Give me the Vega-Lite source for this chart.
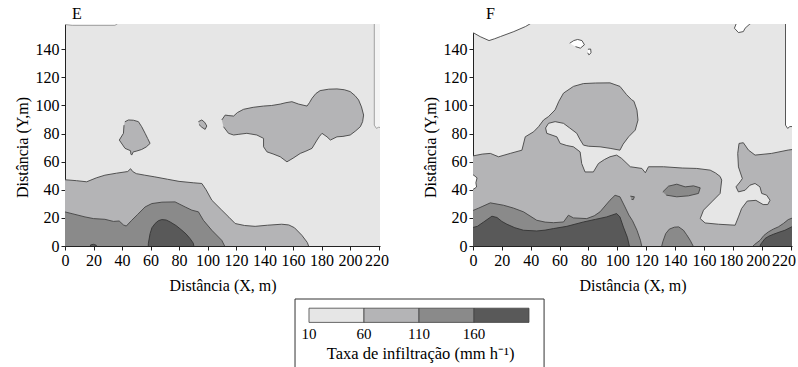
{
"$schema":"https://vega.github.io/schema/vega-lite/v6.json",
"padding":{"left":14,"top":6,"right":0,"bottom":0},
"bounds":"full",
"spacing":5,
"config":{"font":"Liberation Serif","view":{"stroke":null},
"axis":{"labelFont":"Liberation Serif","titleFont":"Liberation Serif","labelFontSize":16,"titleFontSize":16,"titleFontWeight":"normal","labelColor":"#000","titleColor":"#000","domainColor":"#222","tickColor":"#222","tickSize":4,"labelPadding":2,"grid":false,"labelOverlap":false,"labelFlush":false},
"title":{"font":"Liberation Serif","fontSize":16,"fontWeight":"normal","anchor":"start","frame":"group","offset":0,"dy":2,"color":"#000"}},
"datasets":{
"leg":[{"lo":10,"hi":60,"t":"10"},{"lo":60,"hi":110,"t":"60"},{"lo":110,"hi":160,"t":"110"},{"lo":160,"hi":210,"t":"160"}],
"poly":[
{"p":"E","g":"e2a","l":2,"o":0,"x":-3,"y":-3},{"p":"E","g":"e2a","l":2,"o":1,"x":-3,"y":47.4},{"p":"E","g":"e2a","l":2,"o":2,"x":8,"y":46.5},{"p":"E","g":"e2a","l":2,"o":3,"x":15.2,"y":45.7},{"p":"E","g":"e2a","l":2,"o":4,"x":22,"y":48.5},{"p":"E","g":"e2a","l":2,"o":5,"x":28,"y":50.4},{"p":"E","g":"e2a","l":2,"o":6,"x":36,"y":51.8},{"p":"E","g":"e2a","l":2,"o":7,"x":44,"y":53},{"p":"E","g":"e2a","l":2,"o":8,"x":46,"y":55},{"p":"E","g":"e2a","l":2,"o":9,"x":47.5,"y":53},{"p":"E","g":"e2a","l":2,"o":10,"x":50,"y":51.5},{"p":"E","g":"e2a","l":2,"o":11,"x":56,"y":50.4},{"p":"E","g":"e2a","l":2,"o":12,"x":63,"y":49.2},{"p":"E","g":"e2a","l":2,"o":13,"x":72,"y":47.5},{"p":"E","g":"e2a","l":2,"o":14,"x":80,"y":46},{"p":"E","g":"e2a","l":2,"o":15,"x":90,"y":45},{"p":"E","g":"e2a","l":2,"o":16,"x":96,"y":44.5},{"p":"E","g":"e2a","l":2,"o":17,"x":99,"y":40},{"p":"E","g":"e2a","l":2,"o":18,"x":103,"y":32.6},{"p":"E","g":"e2a","l":2,"o":19,"x":110,"y":25.5},{"p":"E","g":"e2a","l":2,"o":20,"x":115,"y":20.5},{"p":"E","g":"e2a","l":2,"o":21,"x":119.4,"y":16},{"p":"E","g":"e2a","l":2,"o":22,"x":126,"y":14.6},{"p":"E","g":"e2a","l":2,"o":23,"x":133.4,"y":14},{"p":"E","g":"e2a","l":2,"o":24,"x":142,"y":14.8},{"p":"E","g":"e2a","l":2,"o":25,"x":152,"y":15.5},{"p":"E","g":"e2a","l":2,"o":26,"x":157,"y":15},{"p":"E","g":"e2a","l":2,"o":27,"x":161,"y":13},{"p":"E","g":"e2a","l":2,"o":28,"x":166.2,"y":7.6},{"p":"E","g":"e2a","l":2,"o":29,"x":170,"y":2.5},{"p":"E","g":"e2a","l":2,"o":30,"x":172,"y":-3},
{"p":"E","g":"e2b","l":2,"o":0,"x":42,"y":88.4},{"p":"E","g":"e2b","l":2,"o":1,"x":44.5,"y":89.7},{"p":"E","g":"e2b","l":2,"o":2,"x":48,"y":89.5},{"p":"E","g":"e2b","l":2,"o":3,"x":51.5,"y":88.5},{"p":"E","g":"e2b","l":2,"o":4,"x":53.8,"y":84.9},{"p":"E","g":"e2b","l":2,"o":5,"x":56.2,"y":80.2},{"p":"E","g":"e2b","l":2,"o":6,"x":58,"y":76.5},{"p":"E","g":"e2b","l":2,"o":7,"x":59.7,"y":73},{"p":"E","g":"e2b","l":2,"o":8,"x":57,"y":70.5},{"p":"E","g":"e2b","l":2,"o":9,"x":53.8,"y":68.7},{"p":"E","g":"e2b","l":2,"o":10,"x":50,"y":67.5},{"p":"E","g":"e2b","l":2,"o":11,"x":47.9,"y":67},{"p":"E","g":"e2b","l":2,"o":12,"x":46.8,"y":64.7},{"p":"E","g":"e2b","l":2,"o":13,"x":46.2,"y":65.5},{"p":"E","g":"e2b","l":2,"o":14,"x":46,"y":67.8},{"p":"E","g":"e2b","l":2,"o":15,"x":42.1,"y":69.5},{"p":"E","g":"e2b","l":2,"o":16,"x":38.1,"y":75.4},{"p":"E","g":"e2b","l":2,"o":17,"x":41,"y":80.2},{"p":"E","g":"e2b","l":2,"o":18,"x":41.4,"y":86},
{"p":"E","g":"e2c","l":2,"o":0,"x":93.6,"y":88.5},{"p":"E","g":"e2c","l":2,"o":1,"x":96,"y":89.7},{"p":"E","g":"e2c","l":2,"o":2,"x":98,"y":88},{"p":"E","g":"e2c","l":2,"o":3,"x":99.5,"y":85.4},{"p":"E","g":"e2c","l":2,"o":4,"x":98.3,"y":83},{"p":"E","g":"e2c","l":2,"o":5,"x":96,"y":84.5},{"p":"E","g":"e2c","l":2,"o":6,"x":94,"y":86.5},
{"p":"E","g":"e2d","l":2,"o":0,"x":110,"y":89.7},{"p":"E","g":"e2d","l":2,"o":1,"x":112.4,"y":93.2},{"p":"E","g":"e2d","l":2,"o":2,"x":115,"y":92.8},{"p":"E","g":"e2d","l":2,"o":3,"x":118.3,"y":92.5},{"p":"E","g":"e2d","l":2,"o":4,"x":121,"y":95},{"p":"E","g":"e2d","l":2,"o":5,"x":125.3,"y":97.3},{"p":"E","g":"e2d","l":2,"o":6,"x":132,"y":98.7},{"p":"E","g":"e2d","l":2,"o":7,"x":139.3,"y":99.6},{"p":"E","g":"e2d","l":2,"o":8,"x":145,"y":100},{"p":"E","g":"e2d","l":2,"o":9,"x":151,"y":101},{"p":"E","g":"e2d","l":2,"o":10,"x":155,"y":102},{"p":"E","g":"e2d","l":2,"o":11,"x":159.2,"y":102.7},{"p":"E","g":"e2d","l":2,"o":12,"x":163.9,"y":101},{"p":"E","g":"e2d","l":2,"o":13,"x":169.8,"y":99.6},{"p":"E","g":"e2d","l":2,"o":14,"x":171.5,"y":102},{"p":"E","g":"e2d","l":2,"o":15,"x":173.3,"y":105.1},{"p":"E","g":"e2d","l":2,"o":16,"x":176,"y":108.5},{"p":"E","g":"e2d","l":2,"o":17,"x":179,"y":110.6},{"p":"E","g":"e2d","l":2,"o":18,"x":185,"y":111.6},{"p":"E","g":"e2d","l":2,"o":19,"x":190.8,"y":111.8},{"p":"E","g":"e2d","l":2,"o":20,"x":196,"y":111.2},{"p":"E","g":"e2d","l":2,"o":21,"x":200.1,"y":109.9},{"p":"E","g":"e2d","l":2,"o":22,"x":203.5,"y":107},{"p":"E","g":"e2d","l":2,"o":23,"x":206,"y":103.9},{"p":"E","g":"e2d","l":2,"o":24,"x":208,"y":99},{"p":"E","g":"e2d","l":2,"o":25,"x":209.5,"y":93.2},{"p":"E","g":"e2d","l":2,"o":26,"x":208.8,"y":88.5},{"p":"E","g":"e2d","l":2,"o":27,"x":207.2,"y":84.9},{"p":"E","g":"e2d","l":2,"o":28,"x":204,"y":82},{"p":"E","g":"e2d","l":2,"o":29,"x":200.1,"y":79},{"p":"E","g":"e2d","l":2,"o":30,"x":195,"y":78},{"p":"E","g":"e2d","l":2,"o":31,"x":190.8,"y":77.7},{"p":"E","g":"e2d","l":2,"o":32,"x":186.2,"y":75.4},{"p":"E","g":"e2d","l":2,"o":33,"x":183.8,"y":77.7},{"p":"E","g":"e2d","l":2,"o":34,"x":180.3,"y":80.2},{"p":"E","g":"e2d","l":2,"o":35,"x":178.5,"y":78},{"p":"E","g":"e2d","l":2,"o":36,"x":176.8,"y":75.4},{"p":"E","g":"e2d","l":2,"o":37,"x":173.3,"y":69.5},{"p":"E","g":"e2d","l":2,"o":38,"x":169,"y":67.5},{"p":"E","g":"e2d","l":2,"o":39,"x":165.1,"y":65.9},{"p":"E","g":"e2d","l":2,"o":40,"x":160,"y":62.5},{"p":"E","g":"e2d","l":2,"o":41,"x":155.7,"y":59.9},{"p":"E","g":"e2d","l":2,"o":42,"x":151,"y":63.5},{"p":"E","g":"e2d","l":2,"o":43,"x":146,"y":65.5},{"p":"E","g":"e2d","l":2,"o":44,"x":141.7,"y":67},{"p":"E","g":"e2d","l":2,"o":45,"x":139.3,"y":70.6},{"p":"E","g":"e2d","l":2,"o":46,"x":139.3,"y":76.6},{"p":"E","g":"e2d","l":2,"o":47,"x":134.6,"y":79},{"p":"E","g":"e2d","l":2,"o":48,"x":127.6,"y":80.2},{"p":"E","g":"e2d","l":2,"o":49,"x":122,"y":79.5},{"p":"E","g":"e2d","l":2,"o":50,"x":118.3,"y":79},{"p":"E","g":"e2d","l":2,"o":51,"x":114.7,"y":80.2},{"p":"E","g":"e2d","l":2,"o":52,"x":111.2,"y":84.9},
{"p":"E","g":"e3a","l":3,"o":0,"x":-3,"y":-3},{"p":"E","g":"e3a","l":3,"o":1,"x":-3,"y":25},{"p":"E","g":"e3a","l":3,"o":2,"x":5,"y":23},{"p":"E","g":"e3a","l":3,"o":3,"x":14,"y":20.7},{"p":"E","g":"e3a","l":3,"o":4,"x":20,"y":19.5},{"p":"E","g":"e3a","l":3,"o":5,"x":28,"y":19},{"p":"E","g":"e3a","l":3,"o":6,"x":34,"y":17.5},{"p":"E","g":"e3a","l":3,"o":7,"x":38,"y":17.8},{"p":"E","g":"e3a","l":3,"o":8,"x":41,"y":15},{"p":"E","g":"e3a","l":3,"o":9,"x":43,"y":14.2},{"p":"E","g":"e3a","l":3,"o":10,"x":46.8,"y":18.3},{"p":"E","g":"e3a","l":3,"o":11,"x":51,"y":22.5},{"p":"E","g":"e3a","l":3,"o":12,"x":56.2,"y":27.8},{"p":"E","g":"e3a","l":3,"o":13,"x":60.9,"y":30.2},{"p":"E","g":"e3a","l":3,"o":14,"x":68,"y":31.2},{"p":"E","g":"e3a","l":3,"o":15,"x":77.2,"y":31.4},{"p":"E","g":"e3a","l":3,"o":16,"x":84.3,"y":27.8},{"p":"E","g":"e3a","l":3,"o":17,"x":89,"y":25.5},{"p":"E","g":"e3a","l":3,"o":18,"x":93.6,"y":24.3},{"p":"E","g":"e3a","l":3,"o":19,"x":97.1,"y":18.3},{"p":"E","g":"e3a","l":3,"o":20,"x":103,"y":11.2},{"p":"E","g":"e3a","l":3,"o":21,"x":110,"y":4},{"p":"E","g":"e3a","l":3,"o":22,"x":113.5,"y":-3},
{"p":"E","g":"e4a","l":4,"o":0,"x":58.3,"y":-3},{"p":"E","g":"e4a","l":4,"o":1,"x":58.5,"y":2},{"p":"E","g":"e4a","l":4,"o":2,"x":59.7,"y":8.8},{"p":"E","g":"e4a","l":4,"o":3,"x":61,"y":13},{"p":"E","g":"e4a","l":4,"o":4,"x":63.2,"y":16},{"p":"E","g":"e4a","l":4,"o":5,"x":65.5,"y":18},{"p":"E","g":"e4a","l":4,"o":6,"x":67.9,"y":18.8},{"p":"E","g":"e4a","l":4,"o":7,"x":71,"y":18.5},{"p":"E","g":"e4a","l":4,"o":8,"x":73.8,"y":17.1},{"p":"E","g":"e4a","l":4,"o":9,"x":78,"y":14.5},{"p":"E","g":"e4a","l":4,"o":10,"x":82,"y":11.2},{"p":"E","g":"e4a","l":4,"o":11,"x":85,"y":8.5},{"p":"E","g":"e4a","l":4,"o":12,"x":87.8,"y":5.2},{"p":"E","g":"e4a","l":4,"o":13,"x":90,"y":2},{"p":"E","g":"e4a","l":4,"o":14,"x":91,"y":-3},
{"p":"E","g":"e4b","l":4,"o":0,"x":17,"y":-3},{"p":"E","g":"e4b","l":4,"o":1,"x":18,"y":0.8},{"p":"E","g":"e4b","l":4,"o":2,"x":20,"y":1.2},{"p":"E","g":"e4b","l":4,"o":3,"x":22,"y":0.5},{"p":"E","g":"e4b","l":4,"o":4,"x":22.5,"y":-3},
{"p":"E","g":"e0a","l":0,"o":0,"x":217,"y":161},{"p":"E","g":"e0a","l":0,"o":1,"x":217,"y":86},{"p":"E","g":"e0a","l":0,"o":2,"x":218.5,"y":83.7},{"p":"E","g":"e0a","l":0,"o":3,"x":220,"y":84.5},{"p":"E","g":"e0a","l":0,"o":4,"x":223,"y":84},{"p":"E","g":"e0a","l":0,"o":5,"x":223,"y":161},
{"p":"E","g":"e0b","l":0,"o":0,"x":-3,"y":161},{"p":"E","g":"e0b","l":0,"o":1,"x":-3,"y":158},{"p":"E","g":"e0b","l":0,"o":2,"x":5,"y":157},{"p":"E","g":"e0b","l":0,"o":3,"x":35,"y":157},{"p":"E","g":"e0b","l":0,"o":4,"x":37,"y":158.3},{"p":"E","g":"e0b","l":0,"o":5,"x":38,"y":161},
{"p":"F","g":"f2a","l":2,"o":0,"x":-3,"y":-3},{"p":"F","g":"f2a","l":2,"o":1,"x":-3,"y":63.5},{"p":"F","g":"f2a","l":2,"o":2,"x":6.4,"y":65.4},{"p":"F","g":"f2a","l":2,"o":3,"x":12,"y":65.9},{"p":"F","g":"f2a","l":2,"o":4,"x":17.7,"y":63.5},{"p":"F","g":"f2a","l":2,"o":5,"x":25.8,"y":65.9},{"p":"F","g":"f2a","l":2,"o":6,"x":33.9,"y":68.2},{"p":"F","g":"f2a","l":2,"o":7,"x":36.2,"y":77.7},{"p":"F","g":"f2a","l":2,"o":8,"x":42,"y":81.3},{"p":"F","g":"f2a","l":2,"o":9,"x":45.4,"y":84.9},{"p":"F","g":"f2a","l":2,"o":10,"x":48.9,"y":89.7},{"p":"F","g":"f2a","l":2,"o":11,"x":52.3,"y":92.1},{"p":"F","g":"f2a","l":2,"o":12,"x":56.9,"y":96.9},{"p":"F","g":"f2a","l":2,"o":13,"x":59.5,"y":103},{"p":"F","g":"f2a","l":2,"o":14,"x":62.7,"y":108.8},{"p":"F","g":"f2a","l":2,"o":15,"x":69.6,"y":113.6},{"p":"F","g":"f2a","l":2,"o":16,"x":76.5,"y":115.6},{"p":"F","g":"f2a","l":2,"o":17,"x":85,"y":116},{"p":"F","g":"f2a","l":2,"o":18,"x":94.9,"y":116.1},{"p":"F","g":"f2a","l":2,"o":19,"x":101.8,"y":113.6},{"p":"F","g":"f2a","l":2,"o":20,"x":106.4,"y":107.7},{"p":"F","g":"f2a","l":2,"o":21,"x":109.9,"y":104.1},{"p":"F","g":"f2a","l":2,"o":22,"x":111.5,"y":103},{"p":"F","g":"f2a","l":2,"o":23,"x":113.6,"y":96.7},{"p":"F","g":"f2a","l":2,"o":24,"x":114.3,"y":89.6},{"p":"F","g":"f2a","l":2,"o":25,"x":112.4,"y":82.5},{"p":"F","g":"f2a","l":2,"o":26,"x":107.8,"y":77.7},{"p":"F","g":"f2a","l":2,"o":27,"x":104,"y":72.5},{"p":"F","g":"f2a","l":2,"o":28,"x":101.8,"y":68.2},{"p":"F","g":"f2a","l":2,"o":29,"x":95,"y":69.5},{"p":"F","g":"f2a","l":2,"o":30,"x":88,"y":70.6},{"p":"F","g":"f2a","l":2,"o":31,"x":80,"y":71},{"p":"F","g":"f2a","l":2,"o":32,"x":76.5,"y":71.8},{"p":"F","g":"f2a","l":2,"o":33,"x":74,"y":76},{"p":"F","g":"f2a","l":2,"o":34,"x":71.9,"y":80.2},{"p":"F","g":"f2a","l":2,"o":35,"x":67,"y":84},{"p":"F","g":"f2a","l":2,"o":36,"x":62.7,"y":87.3},{"p":"F","g":"f2a","l":2,"o":37,"x":56.9,"y":88.5},{"p":"F","g":"f2a","l":2,"o":38,"x":52.3,"y":87.3},{"p":"F","g":"f2a","l":2,"o":39,"x":50.3,"y":84},{"p":"F","g":"f2a","l":2,"o":40,"x":51.1,"y":80.2},{"p":"F","g":"f2a","l":2,"o":41,"x":58.1,"y":77.7},{"p":"F","g":"f2a","l":2,"o":42,"x":60.4,"y":73},{"p":"F","g":"f2a","l":2,"o":43,"x":65,"y":71.5},{"p":"F","g":"f2a","l":2,"o":44,"x":69.6,"y":70.6},{"p":"F","g":"f2a","l":2,"o":45,"x":74.2,"y":67},{"p":"F","g":"f2a","l":2,"o":46,"x":75.3,"y":58.7},{"p":"F","g":"f2a","l":2,"o":47,"x":77.6,"y":52.7},{"p":"F","g":"f2a","l":2,"o":48,"x":83.4,"y":52.7},{"p":"F","g":"f2a","l":2,"o":49,"x":86.9,"y":58.7},{"p":"F","g":"f2a","l":2,"o":50,"x":91,"y":61.5},{"p":"F","g":"f2a","l":2,"o":51,"x":94.9,"y":63.5},{"p":"F","g":"f2a","l":2,"o":52,"x":99.5,"y":64.7},{"p":"F","g":"f2a","l":2,"o":53,"x":103,"y":62.3},{"p":"F","g":"f2a","l":2,"o":54,"x":109,"y":56.4},{"p":"F","g":"f2a","l":2,"o":55,"x":117,"y":55.2},{"p":"F","g":"f2a","l":2,"o":56,"x":119.4,"y":52.1},{"p":"F","g":"f2a","l":2,"o":57,"x":121.6,"y":56.4},{"p":"F","g":"f2a","l":2,"o":58,"x":132,"y":56.4},{"p":"F","g":"f2a","l":2,"o":59,"x":145,"y":55.5},{"p":"F","g":"f2a","l":2,"o":60,"x":155,"y":55.2},{"p":"F","g":"f2a","l":2,"o":61,"x":164.3,"y":54},{"p":"F","g":"f2a","l":2,"o":62,"x":168,"y":52},{"p":"F","g":"f2a","l":2,"o":63,"x":171.2,"y":49.5},{"p":"F","g":"f2a","l":2,"o":64,"x":172.3,"y":46.9},{"p":"F","g":"f2a","l":2,"o":65,"x":171.2,"y":37.4},{"p":"F","g":"f2a","l":2,"o":66,"x":165.4,"y":31.4},{"p":"F","g":"f2a","l":2,"o":67,"x":159.7,"y":25.5},{"p":"F","g":"f2a","l":2,"o":68,"x":157.4,"y":19.5},{"p":"F","g":"f2a","l":2,"o":69,"x":160.8,"y":16.4},{"p":"F","g":"f2a","l":2,"o":70,"x":170,"y":15.5},{"p":"F","g":"f2a","l":2,"o":71,"x":181.6,"y":14.8},{"p":"F","g":"f2a","l":2,"o":72,"x":183.9,"y":20.7},{"p":"F","g":"f2a","l":2,"o":73,"x":186.1,"y":26.7},{"p":"F","g":"f2a","l":2,"o":74,"x":190,"y":32},{"p":"F","g":"f2a","l":2,"o":75,"x":196,"y":32.5},{"p":"F","g":"f2a","l":2,"o":76,"x":201,"y":29.5},{"p":"F","g":"f2a","l":2,"o":77,"x":204.2,"y":29.5},{"p":"F","g":"f2a","l":2,"o":78,"x":205.8,"y":32.6},{"p":"F","g":"f2a","l":2,"o":79,"x":203.4,"y":36.2},{"p":"F","g":"f2a","l":2,"o":80,"x":200,"y":37.4},{"p":"F","g":"f2a","l":2,"o":81,"x":198.8,"y":42.1},{"p":"F","g":"f2a","l":2,"o":82,"x":195.4,"y":44.5},{"p":"F","g":"f2a","l":2,"o":83,"x":191.9,"y":43.3},{"p":"F","g":"f2a","l":2,"o":84,"x":188.5,"y":39.7},{"p":"F","g":"f2a","l":2,"o":85,"x":183.9,"y":38.5},{"p":"F","g":"f2a","l":2,"o":86,"x":182.2,"y":42.1},{"p":"F","g":"f2a","l":2,"o":87,"x":185,"y":45.6},{"p":"F","g":"f2a","l":2,"o":88,"x":186.6,"y":48},{"p":"F","g":"f2a","l":2,"o":89,"x":183.9,"y":56.3},{"p":"F","g":"f2a","l":2,"o":90,"x":183.4,"y":65.9},{"p":"F","g":"f2a","l":2,"o":91,"x":184.3,"y":73},{"p":"F","g":"f2a","l":2,"o":92,"x":187.3,"y":73.5},{"p":"F","g":"f2a","l":2,"o":93,"x":190.8,"y":68.3},{"p":"F","g":"f2a","l":2,"o":94,"x":195.4,"y":64.7},{"p":"F","g":"f2a","l":2,"o":95,"x":206.9,"y":65.9},{"p":"F","g":"f2a","l":2,"o":96,"x":218.4,"y":68.3},{"p":"F","g":"f2a","l":2,"o":97,"x":224,"y":69},{"p":"F","g":"f2a","l":2,"o":98,"x":224,"y":-3},
{"p":"F","g":"f3a","l":3,"o":0,"x":-3,"y":-3},{"p":"F","g":"f3a","l":3,"o":1,"x":-3,"y":24},{"p":"F","g":"f3a","l":3,"o":2,"x":4,"y":27},{"p":"F","g":"f3a","l":3,"o":3,"x":12,"y":30.7},{"p":"F","g":"f3a","l":3,"o":4,"x":21.2,"y":29},{"p":"F","g":"f3a","l":3,"o":5,"x":28,"y":27},{"p":"F","g":"f3a","l":3,"o":6,"x":35,"y":24.3},{"p":"F","g":"f3a","l":3,"o":7,"x":44.2,"y":18.3},{"p":"F","g":"f3a","l":3,"o":8,"x":50,"y":17},{"p":"F","g":"f3a","l":3,"o":9,"x":55.8,"y":16.6},{"p":"F","g":"f3a","l":3,"o":10,"x":62.7,"y":17.1},{"p":"F","g":"f3a","l":3,"o":11,"x":66.1,"y":21.9},{"p":"F","g":"f3a","l":3,"o":12,"x":69.6,"y":20},{"p":"F","g":"f3a","l":3,"o":13,"x":78.8,"y":19.5},{"p":"F","g":"f3a","l":3,"o":14,"x":84,"y":21.5},{"p":"F","g":"f3a","l":3,"o":15,"x":88,"y":24.3},{"p":"F","g":"f3a","l":3,"o":16,"x":94.9,"y":32.6},{"p":"F","g":"f3a","l":3,"o":17,"x":98.4,"y":36.1},{"p":"F","g":"f3a","l":3,"o":18,"x":101.8,"y":35},{"p":"F","g":"f3a","l":3,"o":19,"x":105.3,"y":27.8},{"p":"F","g":"f3a","l":3,"o":20,"x":108,"y":22},{"p":"F","g":"f3a","l":3,"o":21,"x":110.5,"y":18},{"p":"F","g":"f3a","l":3,"o":22,"x":113.6,"y":11.2},{"p":"F","g":"f3a","l":3,"o":23,"x":116,"y":4},{"p":"F","g":"f3a","l":3,"o":24,"x":117.5,"y":-3},
{"p":"F","g":"f3b","l":3,"o":0,"x":130,"y":-3},{"p":"F","g":"f3b","l":3,"o":1,"x":131.5,"y":3},{"p":"F","g":"f3b","l":3,"o":2,"x":133.5,"y":8.8},{"p":"F","g":"f3b","l":3,"o":3,"x":136,"y":12},{"p":"F","g":"f3b","l":3,"o":4,"x":139.5,"y":13.4},{"p":"F","g":"f3b","l":3,"o":5,"x":142.5,"y":13.6},{"p":"F","g":"f3b","l":3,"o":6,"x":145.8,"y":11.2},{"p":"F","g":"f3b","l":3,"o":7,"x":148,"y":8},{"p":"F","g":"f3b","l":3,"o":8,"x":150.5,"y":4},{"p":"F","g":"f3b","l":3,"o":9,"x":154,"y":-3},
{"p":"F","g":"f3c","l":3,"o":0,"x":131.5,"y":38.5},{"p":"F","g":"f3c","l":3,"o":1,"x":135.5,"y":42.6},{"p":"F","g":"f3c","l":3,"o":2,"x":141.2,"y":44},{"p":"F","g":"f3c","l":3,"o":3,"x":147,"y":42.1},{"p":"F","g":"f3c","l":3,"o":4,"x":152.8,"y":42.8},{"p":"F","g":"f3c","l":3,"o":5,"x":157.4,"y":41.4},{"p":"F","g":"f3c","l":3,"o":6,"x":156.2,"y":37.4},{"p":"F","g":"f3c","l":3,"o":7,"x":149.3,"y":35.7},{"p":"F","g":"f3c","l":3,"o":8,"x":141.2,"y":35},{"p":"F","g":"f3c","l":3,"o":9,"x":133.9,"y":36.2},
{"p":"F","g":"f3d","l":3,"o":0,"x":109,"y":35.5},{"p":"F","g":"f3d","l":3,"o":1,"x":111.8,"y":35},{"p":"F","g":"f3d","l":3,"o":2,"x":111,"y":33},{"p":"F","g":"f3d","l":3,"o":3,"x":109.8,"y":33.2},
{"p":"F","g":"f3e","l":3,"o":0,"x":191,"y":-3},{"p":"F","g":"f3e","l":3,"o":1,"x":195,"y":1},{"p":"F","g":"f3e","l":3,"o":2,"x":198.8,"y":4},{"p":"F","g":"f3e","l":3,"o":3,"x":201.5,"y":7.5},{"p":"F","g":"f3e","l":3,"o":4,"x":204.6,"y":10},{"p":"F","g":"f3e","l":3,"o":5,"x":208,"y":12},{"p":"F","g":"f3e","l":3,"o":6,"x":211.5,"y":13.6},{"p":"F","g":"f3e","l":3,"o":7,"x":215,"y":16},{"p":"F","g":"f3e","l":3,"o":8,"x":218.4,"y":18.8},{"p":"F","g":"f3e","l":3,"o":9,"x":224,"y":21},{"p":"F","g":"f3e","l":3,"o":10,"x":224,"y":-3},
{"p":"F","g":"f4a","l":4,"o":0,"x":-3,"y":-3},{"p":"F","g":"f4a","l":4,"o":1,"x":-3,"y":12.4},{"p":"F","g":"f4a","l":4,"o":2,"x":3,"y":14},{"p":"F","g":"f4a","l":4,"o":3,"x":7.4,"y":17.1},{"p":"F","g":"f4a","l":4,"o":4,"x":13.1,"y":21.2},{"p":"F","g":"f4a","l":4,"o":5,"x":16.6,"y":20.3},{"p":"F","g":"f4a","l":4,"o":6,"x":20,"y":17.5},{"p":"F","g":"f4a","l":4,"o":7,"x":23.5,"y":15.5},{"p":"F","g":"f4a","l":4,"o":8,"x":29,"y":13},{"p":"F","g":"f4a","l":4,"o":9,"x":35,"y":11.2},{"p":"F","g":"f4a","l":4,"o":10,"x":44.2,"y":10.7},{"p":"F","g":"f4a","l":4,"o":11,"x":50,"y":11.3},{"p":"F","g":"f4a","l":4,"o":12,"x":55.8,"y":12.4},{"p":"F","g":"f4a","l":4,"o":13,"x":65,"y":14},{"p":"F","g":"f4a","l":4,"o":14,"x":76.5,"y":17.1},{"p":"F","g":"f4a","l":4,"o":15,"x":85,"y":19},{"p":"F","g":"f4a","l":4,"o":16,"x":92.6,"y":20.7},{"p":"F","g":"f4a","l":4,"o":17,"x":99.5,"y":23.1},{"p":"F","g":"f4a","l":4,"o":18,"x":101.8,"y":20.7},{"p":"F","g":"f4a","l":4,"o":19,"x":104.2,"y":13.5},{"p":"F","g":"f4a","l":4,"o":20,"x":107,"y":6},{"p":"F","g":"f4a","l":4,"o":21,"x":109,"y":-3},
{"p":"F","g":"f4b","l":4,"o":0,"x":197.5,"y":-3},{"p":"F","g":"f4b","l":4,"o":1,"x":199.5,"y":1.5},{"p":"F","g":"f4b","l":4,"o":2,"x":202.3,"y":5.3},{"p":"F","g":"f4b","l":4,"o":3,"x":205,"y":7},{"p":"F","g":"f4b","l":4,"o":4,"x":208,"y":8.3},{"p":"F","g":"f4b","l":4,"o":5,"x":212,"y":9.8},{"p":"F","g":"f4b","l":4,"o":6,"x":216.1,"y":11.2},{"p":"F","g":"f4b","l":4,"o":7,"x":220.7,"y":13.6},{"p":"F","g":"f4b","l":4,"o":8,"x":224,"y":14},{"p":"F","g":"f4b","l":4,"o":9,"x":224,"y":-3},
{"p":"F","g":"f0a","l":0,"o":0,"x":-3,"y":162},{"p":"F","g":"f0a","l":0,"o":1,"x":-3,"y":152},{"p":"F","g":"f0a","l":0,"o":2,"x":0.7,"y":151.5},{"p":"F","g":"f0a","l":0,"o":3,"x":5,"y":149},{"p":"F","g":"f0a","l":0,"o":4,"x":11.1,"y":146.2},{"p":"F","g":"f0a","l":0,"o":5,"x":15,"y":147.5},{"p":"F","g":"f0a","l":0,"o":6,"x":19.1,"y":149.1},{"p":"F","g":"f0a","l":0,"o":7,"x":28.3,"y":152.6},{"p":"F","g":"f0a","l":0,"o":8,"x":36.4,"y":156.2},{"p":"F","g":"f0a","l":0,"o":9,"x":41,"y":159},{"p":"F","g":"f0a","l":0,"o":10,"x":42,"y":162},
{"p":"F","g":"f0b","l":0,"o":0,"x":183,"y":162},{"p":"F","g":"f0b","l":0,"o":1,"x":182.5,"y":158.6},{"p":"F","g":"f0b","l":0,"o":2,"x":181.1,"y":155},{"p":"F","g":"f0b","l":0,"o":3,"x":183.9,"y":151.9},{"p":"F","g":"f0b","l":0,"o":4,"x":187.3,"y":152.6},{"p":"F","g":"f0b","l":0,"o":5,"x":188.5,"y":155},{"p":"F","g":"f0b","l":0,"o":6,"x":191.9,"y":158.1},{"p":"F","g":"f0b","l":0,"o":7,"x":195.4,"y":159.8},{"p":"F","g":"f0b","l":0,"o":8,"x":196,"y":162},
{"p":"F","g":"f0c","l":0,"o":0,"x":67,"y":144.3},{"p":"F","g":"f0c","l":0,"o":1,"x":69.8,"y":146.2},{"p":"F","g":"f0c","l":0,"o":2,"x":72.5,"y":147},{"p":"F","g":"f0c","l":0,"o":3,"x":75.5,"y":146.2},{"p":"F","g":"f0c","l":0,"o":4,"x":77.2,"y":143.2},{"p":"F","g":"f0c","l":0,"o":5,"x":74.4,"y":140.8},{"p":"F","g":"f0c","l":0,"o":6,"x":71,"y":141.9},
{"p":"F","g":"f0d","l":0,"o":0,"x":79.6,"y":140},{"p":"F","g":"f0d","l":0,"o":1,"x":81.5,"y":140.2},{"p":"F","g":"f0d","l":0,"o":2,"x":81.8,"y":137.5},{"p":"F","g":"f0d","l":0,"o":3,"x":80.3,"y":136},{"p":"F","g":"f0d","l":0,"o":4,"x":79.5,"y":137.5},
{"p":"F","g":"f0e","l":0,"o":0,"x":216.5,"y":162},{"p":"F","g":"f0e","l":0,"o":1,"x":216.5,"y":86},{"p":"F","g":"f0e","l":0,"o":2,"x":218,"y":83.7},{"p":"F","g":"f0e","l":0,"o":3,"x":219.5,"y":85},{"p":"F","g":"f0e","l":0,"o":4,"x":224,"y":85},{"p":"F","g":"f0e","l":0,"o":5,"x":224,"y":162},
{"p":"F","g":"f0f","l":0,"o":0,"x":-3,"y":51},{"p":"F","g":"f0f","l":0,"o":1,"x":0.5,"y":50.4},{"p":"F","g":"f0f","l":0,"o":2,"x":2.8,"y":48.5},{"p":"F","g":"f0f","l":0,"o":3,"x":2,"y":45},{"p":"F","g":"f0f","l":0,"o":4,"x":2.5,"y":42},{"p":"F","g":"f0f","l":0,"o":5,"x":0.5,"y":40.5},{"p":"F","g":"f0f","l":0,"o":6,"x":-3,"y":40}
]},
"vconcat":[
{"hconcat":[
{"title":{"text":"E","dx":7},
"width":315,"height":222,"view":{"fill":"#e6e6e6","stroke":null},
"data":{"name":"poly"},
"encoding":{
"x":{"field":"x","type":"quantitative","scale":{"domain":[0,221],"nice":false,"zero":false},"axis":{"values":[0,20,40,60,80,100,120,140,160,180,200,220],"title":"Distância (X, m)","titlePadding":9,"labelOffset":{"expr":"datum.value == 220 ? -2 : 0"}}},
"y":{"field":"y","type":"quantitative","scale":{"domain":[0,158],"nice":false,"zero":false},"axis":{"values":[0,20,40,60,80,100,120,140],"title":"Distância (Y,m)","titlePadding":5,"titleY":123}},
"detail":{"field":"g"},"order":{"field":"o","type":"quantitative"}},
"layer":[
{"transform":[{"filter":"datum.p=='E' && datum.l==2"}],"mark":{"type":"line","fill":"#b4b4b6","stroke":"#444","strokeWidth":0.9,"clip":true}},
{"transform":[{"filter":"datum.p=='E' && datum.l==3"}],"mark":{"type":"line","fill":"#8a8a8a","stroke":"#444","strokeWidth":0.9,"clip":true}},
{"transform":[{"filter":"datum.p=='E' && datum.l==4"}],"mark":{"type":"line","fill":"#595959","stroke":"#333","strokeWidth":0.9,"clip":true}},
{"transform":[{"filter":"datum.p=='E' && datum.l==0"}],"mark":{"type":"line","fill":"#f4f4f4","stroke":"#999","strokeWidth":0.9,"clip":true}}
]},
{"title":{"text":"F","dx":13},
"width":319,"height":222,"view":{"fill":"#e6e6e6","stroke":null},
"data":{"name":"poly"},
"encoding":{
"x":{"field":"x","type":"quantitative","scale":{"domain":[0,221],"nice":false,"zero":false},"axis":{"values":[0,20,40,60,80,100,120,140,160,180,200,220],"title":"Distância (X, m)","titlePadding":9,"labelOffset":{"expr":"datum.value == 220 ? -7 : datum.value == 200 ? -4 : datum.value == 180 ? -2 : 0"}}},
"y":{"field":"y","type":"quantitative","scale":{"domain":[0,158],"nice":false,"zero":false},"axis":{"values":[0,20,40,60,80,100,120,140],"title":"Distância (Y,m)","titlePadding":5,"titleY":123}},
"detail":{"field":"g"},"order":{"field":"o","type":"quantitative"}},
"layer":[
{"transform":[{"filter":"datum.p=='F' && datum.l==2"}],"mark":{"type":"line","fill":"#b4b4b6","stroke":"#444","strokeWidth":0.9,"clip":true}},
{"transform":[{"filter":"datum.p=='F' && datum.l==3"}],"mark":{"type":"line","fill":"#8a8a8a","stroke":"#444","strokeWidth":0.9,"clip":true}},
{"transform":[{"filter":"datum.p=='F' && datum.l==4"}],"mark":{"type":"line","fill":"#595959","stroke":"#333","strokeWidth":0.9,"clip":true}},
{"transform":[{"filter":"datum.p=='F' && datum.l==0"}],"mark":{"type":"line","fill":"#ffffff","stroke":"#444","strokeWidth":0.9,"clip":true}}
]}
],"spacing":93,"bounds":"flush"},
{"width":728,"height":80,"view":{"stroke":null},
"layer":[
{"data":{"values":[{"k":"box"}]},"mark":{"type":"rect","fill":"#ffffff","fillOpacity":0,"stroke":"#333","strokeWidth":1},
"encoding":{"x":{"datum":-2.7,"type":"quantitative","scale":{"domain":[-211.8,450],"nice":false,"zero":false},"axis":null},"x2":{"datum":223.7},"y":{"datum":0,"type":"quantitative","scale":{"domain":[0,80],"reverse":true,"nice":false,"zero":false},"axis":null},"y2":{"datum":80}}},
{"data":{"name":"leg"},"mark":{"type":"rect","stroke":"#444","strokeWidth":0.8},
"encoding":{"x":{"field":"lo","type":"quantitative"},"x2":{"field":"hi"},"y":{"datum":9.2,"type":"quantitative"},"y2":{"datum":23.4},"fill":{"field":"t","type":"nominal","scale":{"domain":["10","60","110","160"],"range":["#e6e6e6","#b4b4b6","#8a8a8a","#595959"]},"legend":null}}},
{"data":{"name":"leg"},"mark":{"type":"text","font":"Liberation Serif","fontSize":15,"baseline":"middle","color":"#000"},
"encoding":{"x":{"field":"lo","type":"quantitative"},"y":{"datum":34.5,"type":"quantitative"},"text":{"field":"t"}}},
{"data":{"values":[{"s":"Taxa de infiltração (mm h⁻¹)"}]},"mark":{"type":"text","font":"Liberation Serif","fontSize":16.5,"baseline":"middle","color":"#000"},
"encoding":{"x":{"datum":111.5,"type":"quantitative"},"y":{"datum":54.5,"type":"quantitative"},"text":{"field":"s"}}}
]}
]
}
